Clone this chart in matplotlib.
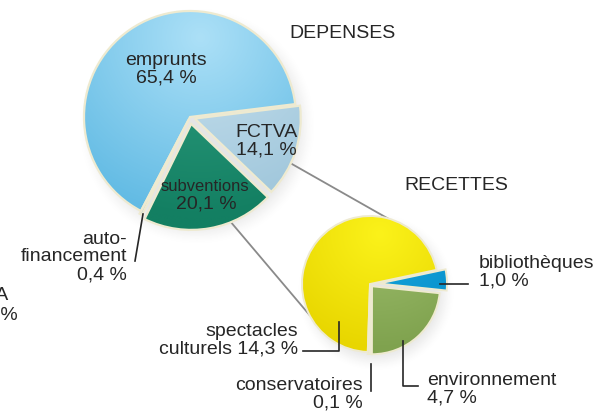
import numpy as np
import matplotlib
matplotlib.use('Agg')
import matplotlib.pyplot as plt
from matplotlib import font_manager as fm
from matplotlib.colors import to_rgb

plt.rcParams['font.family'] = ['Liberation Sans', 'DejaVu Sans']

# DEPENSES (big pie)
dep_labels = ['emprunts', 'auto-\nfinancement', 'subventions', 'FCTVA']
dep_values = [65.4, 0.4, 20.1, 14.1]
dep_light = ['#ace0f7', '#d4e4ec', '#2f9f80', '#c8e1ee']
dep_dark = ['#62bbe4', '#a9c6d6', '#137f62', '#9fc6db']

# RECETTES (split of the subventions)
rec_labels = ['spectacles\nculturels', 'conservatoires', 'environnement', 'bibliothèques']
rec_values = [14.3, 0.1, 4.7, 1.0]
rec_light = ['#fbf21a', '#f6c6d2', '#9dbd6c', '#18a4dd']
rec_dark = ['#e8d600', '#e09ab0', '#7fa24e', '#0690ca']

TXT = '#262626'


def pct(v):
    return f'{v:.1f} %'.replace('.', ',')


def narrow_font(size):
    # Liberation Sans Narrow if present, otherwise a smaller regular face
    try:
        p = fm.FontProperties(family='Liberation Sans Narrow', size=size)
        path = fm.findfont(p, fallback_to_default=False)
        if 'Narrow' in path:
            return p
    except Exception:
        pass
    return fm.FontProperties(family='Liberation Sans', size=size * 0.85)


def pt(center, r, ang):
    # point on a circle, screen angle in degrees (y axis points down)
    a = np.radians(ang)
    return center[0] + r * np.cos(a), center[1] - r * np.sin(a)


def shadow(ax, center, r, off=(7, 9), blur=14, alpha=0.22):
    cx, cy = center[0] + off[0], center[1] + off[1]
    ext = r + 2 * blur
    xs = np.linspace(cx - ext, cx + ext, 300)
    ys = np.linspace(cy - ext, cy + ext, 300)
    X, Y = np.meshgrid(xs, ys)
    d = np.hypot(X - cx, Y - cy)
    t = np.clip((r + blur - d) / (2 * blur), 0, 1)
    t = t * t * (3 - 2 * t)
    img = np.zeros((300, 300, 4))
    img[..., :3] = 0.55
    img[..., 3] = t * alpha
    ax.imshow(img, extent=(cx - ext, cx + ext, cy + ext, cy - ext),
              origin='upper', zorder=1, interpolation='bilinear')


def shade(ax, wedge, light, dark, hl):
    cx, cy = wedge.center
    r = wedge.r
    n = 250
    xs = np.linspace(cx - r - 3, cx + r + 3, n)
    ys = np.linspace(cy - r - 3, cy + r + 3, n)
    X, Y = np.meshgrid(xs, ys)
    t = np.clip(np.hypot(X - hl[0], Y - hl[1]) / (1.7 * r), 0, 1)
    c1, c2 = np.array(to_rgb(light)), np.array(to_rgb(dark))
    img = c1[None, None, :] * (1 - t[..., None]) + c2[None, None, :] * t[..., None]
    im = ax.imshow(img, extent=(xs[0], xs[-1], ys[-1], ys[0]), origin='upper',
                   zorder=3, interpolation='bilinear')
    im.set_clip_path(wedge)


fig = plt.figure(figsize=(6.12, 4.14), dpi=100)
ax = fig.add_axes([0, 0, 1, 1])

big_c, big_r = (190, 118), 106
small_c, small_r = (370, 285), 68

shadow(ax, big_c, big_r)
shadow(ax, small_c, small_r, off=(6, 8), blur=12)

big, _ = ax.pie(dep_values, center=big_c, radius=big_r, startangle=-7,
                counterclock=False, explode=[0, 3, 7, 5], frame=True,
                wedgeprops=dict(edgecolor='#eeead0', linewidth=1.6, zorder=4))
small, _ = ax.pie(rec_values, center=small_c, radius=small_r, startangle=-12,
                  counterclock=False, explode=[0, 2, 3, 9], frame=True,
                  wedgeprops=dict(edgecolor='#eeead0', linewidth=1.4, zorder=4))

big_hl = (big_c[0] + 10, big_c[1] - 80)
for w, l, d in zip(big, dep_light, dep_dark):
    w.set_facecolor('none')
    shade(ax, w, l, d, big_hl)
small_hl = (small_c[0] + 10, small_c[1] - 50)
for w, l, d in zip(small, rec_light, rec_dark):
    w.set_facecolor('none')
    shade(ax, w, l, d, small_hl)

# connector lines between the subventions part and the RECETTES pie
fctva, subv = big[3], big[2]
for w, a1, a2 in [(fctva, -25, 75), (subv, -68, 207)]:
    x1, y1 = pt(w.center, w.r, a1)
    x2, y2 = pt(small[0].center, small[0].r, a2)
    ax.plot([x1, x2], [y1, y2], color='#8a8a8a', lw=1.3, zorder=2)

fs = 14
kw = dict(color=TXT, fontsize=fs, linespacing=1.05, zorder=6)

ax.text(289, 33, 'DEPENSES', ha='left', va='center', **kw)
ax.text(404, 186, 'RECETTES', ha='left', va='center', **kw)

ax.text(166, 69, f'{dep_labels[0]}\n{pct(dep_values[0])}', ha='center', va='center', **kw)
ax.text(266, 141, f'{dep_labels[3]}\n{pct(dep_values[3])}', ha='center', va='center', **kw)
ax.text(205, 187, dep_labels[2], ha='center', va='center', color=TXT, zorder=6,
        fontproperties=narrow_font(fs))
ax.text(206, 204, pct(dep_values[2]), ha='center', va='center', **kw)
ax.text(127, 257, f'{dep_labels[1]}\n{pct(dep_values[1])}', ha='right', va='center', **kw)
ax.plot([143, 135], [215, 262], color=TXT, lw=1.2, zorder=6)

# cut-off label at the left border
ax.text(9, 296, dep_labels[3], ha='right', va='center', **kw)
ax.text(18, 315, pct(dep_values[3]), ha='right', va='center', **kw)

ax.text(479, 272, f'{rec_labels[3]}\n{pct(rec_values[3])}', ha='left', va='center', **kw)
ax.plot([440, 468], [285, 285], color=TXT, lw=1.2, zorder=6)

ax.text(298, 340, f'{rec_labels[0]} {pct(rec_values[0])}', ha='right', va='center', **kw)
ax.plot([339, 339, 303], [323, 352, 352], color=TXT, lw=1.2, zorder=6)

ax.text(363, 394, f'{rec_labels[1]}\n{pct(rec_values[1])}', ha='right', va='center', **kw)
ax.plot([371, 371], [365, 392], color=TXT, lw=1.2, zorder=6)

ax.text(427, 389, f'{rec_labels[2]}\n{pct(rec_values[2])}', ha='left', va='center', **kw)
ax.plot([403, 403, 418], [342, 387, 387], color=TXT, lw=1.2, zorder=6)

ax.set_xlim(0, 612)
ax.set_ylim(414, 0)
ax.set_aspect('equal', adjustable='box')
ax.axis('off')

fig.savefig('out.png', dpi=100, facecolor='white')
